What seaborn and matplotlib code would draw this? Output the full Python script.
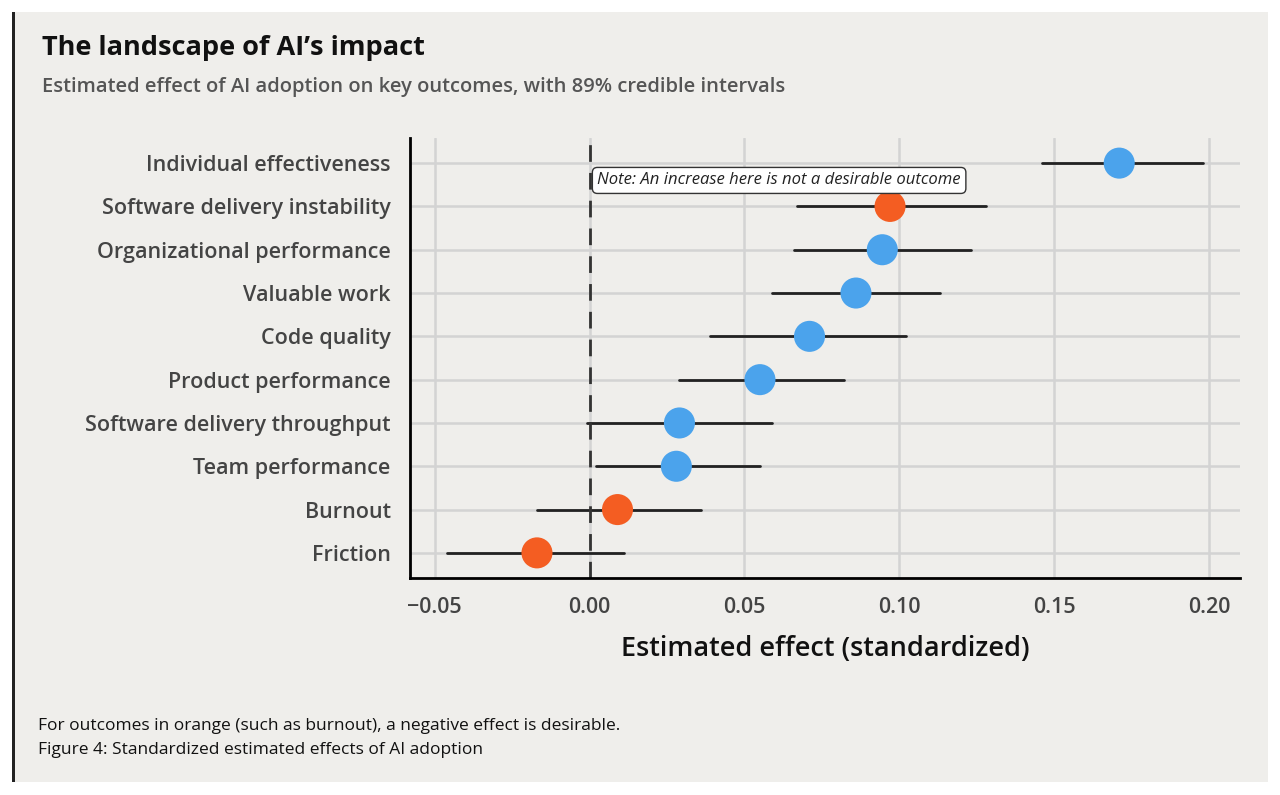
import matplotlib
matplotlib.use("agg")
import matplotlib.pyplot as plt
from matplotlib.patches import Rectangle
import seaborn as sns
import pandas as pd

outcomes = ["Individual effectiveness", "Software delivery instability", "Organizational performance",
            "Valuable work", "Code quality", "Product performance", "Software delivery throughput",
            "Team performance", "Burnout", "Friction"]
estimate = [0.171, 0.097, 0.0945, 0.086, 0.071, 0.055, 0.029, 0.028, 0.009, -0.017]
ci_low = [0.146, 0.067, 0.066, 0.059, 0.039, 0.029, -0.001, 0.002, -0.017, -0.046]
ci_high = [0.198, 0.128, 0.123, 0.113, 0.102, 0.082, 0.059, 0.055, 0.036, 0.011]
negative_desirable = [False, True, False, False, False, False, False, False, True, True]

df = pd.DataFrame({"outcome": outcomes, "estimate": estimate, "low": ci_low, "high": ci_high,
                   "kind": ["orange" if n else "blue" for n in negative_desirable]})

sns.set_style("white")
plt.rcParams["font.family"] = ["Open Sans", "DejaVu Sans"]
bg = "#efeeeb"

fig = plt.figure(figsize=(12.8, 7.95), dpi=100, facecolor="white")
fig.patches.append(Rectangle((12/1280, 1-782/795), 1256/1280, 770/795, transform=fig.transFigure,
                             facecolor=bg, edgecolor="none", zorder=-2))
fig.patches.append(Rectangle((12/1280, 1-782/795), 3/1280, 770/795, transform=fig.transFigure,
                             facecolor="#222222", edgecolor="none", zorder=-1))

ax = fig.add_axes([410/1280, 1-578/795, 830/1280, 440/795])
ax.set_facecolor(bg)
for i, r in df.iterrows():
    ax.plot([r.low, r.high], [i, i], color="#222222", lw=2, zorder=2)
sns.scatterplot(data=df, x="estimate", y="outcome", hue="kind",
                palette={"blue": "#4ba3ec", "orange": "#f45d22"}, s=500, edgecolor="none",
                legend=False, ax=ax, zorder=3)
ax.axvline(0, color="#333333", lw=2, ls=(0, (6, 4)), zorder=2)
ax.set_xlim(-0.058, 0.21)
ax.set_ylim(9.58, -0.58)
ax.set_xticks([-0.05, 0, 0.05, 0.1, 0.15, 0.2])
ax.set_xticklabels(["\u22120.05", "0.00", "0.05", "0.10", "0.15", "0.20"])
ax.grid(True, color="#d3d3d3", lw=1.8, zorder=0)
ax.set_axisbelow(True)
for s in ["top", "right"]:
    ax.spines[s].set_visible(False)
for s in ["left", "bottom"]:
    ax.spines[s].set_color("black")
    ax.spines[s].set_linewidth(2)
ax.tick_params(axis="both", labelsize=15.5, colors="#444444", length=0, pad=14)
ax.tick_params(axis="x", length=6, color="black", width=1.5, pad=8)
for t in ax.get_xticklabels() + ax.get_yticklabels():
    t.set_fontweight("semibold")
ax.set_ylabel("")
ax.set_xlabel("Estimated effect (standardized)", fontsize=19.5, fontweight="semibold", color="#111111", labelpad=12)

ax.text(0.0025, 0.4, "Note: An increase here is not a desirable outcome", fontsize=12, style="italic",
        color="#222222", va="center",
        bbox=dict(boxstyle="round,pad=0.3", facecolor="white", edgecolor="#333333", lw=1))

fig.text(42/1280, 1-48/795, "The landscape of AI\u2019s impact", fontsize=19.5, fontweight="bold",
         color="#111111", va="center")
fig.text(42/1280, 1-87/795, "Estimated effect of AI adoption on key outcomes, with 89% credible intervals",
         fontsize=14.5, fontweight="semibold", color="#555555", va="center")
fig.text(38/1280, 1-726/795, "For outcomes in orange (such as burnout), a negative effect is desirable.",
         fontsize=12.5, color="#111111", va="center")
fig.text(38/1280, 1-750/795, "Figure 4: Standardized estimated effects of AI adoption",
         fontsize=12.5, color="#111111", va="center")

fig.savefig("out.png", dpi=100, facecolor="white")
